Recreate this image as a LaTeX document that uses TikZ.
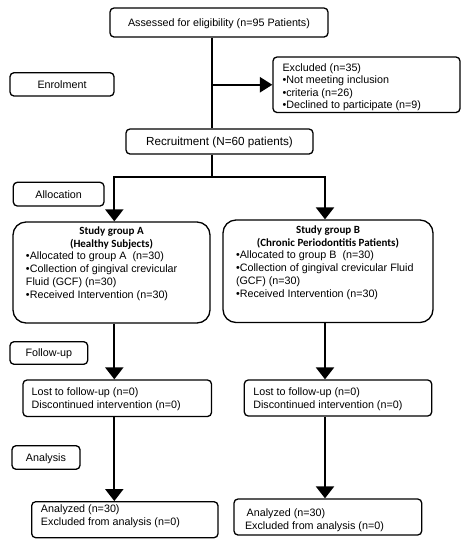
\documentclass[tikz,border=0pt]{standalone}
\usepackage{fontspec}
\setmainfont{Liberation Sans}
\newfontfamily\hdfont{Carlito}
\usetikzlibrary{arrows.meta}
% #1 width, #2 height, #3 top-to-first-baseline, #4 left indent, #5 line spacing, #6 content
\newcommand{\bxl}[6]{\begin{minipage}[c][#2pt][t]{#1pt}\fontsize{10.75}{#5}\selectfont\raggedright\leftskip=#4pt\relax\vspace*{\dimexpr#3pt-\ht\strutbox\relax}\strut\ignorespaces#6\end{minipage}}
\newcommand{\hdg}{\hdfont\bfseries\fontsize{11}{12.7}\selectfont}
\begin{document}
\begin{tikzpicture}[x=1pt,y=-1pt,
  box/.style={draw, line width=1.3pt, rounded corners=4pt, inner sep=0pt},
  bigbox/.style={box, rounded corners=13pt},
  one/.style={box, text height=7.7pt, text depth=0pt, font=\fontsize{10.75}{12.8}\selectfont},
  conn/.style={line width=2.2pt},
  tipv/.style={-{Triangle[width=18pt,length=12pt]}},
  tipboth/.style={{Triangle[width=18pt,length=12pt]}-{Triangle[width=18pt,length=12pt]}},
]
\useasboundingbox (0,0) rectangle (467,550);
\fill[white] (0,0) rectangle (467,550);

% boxes
\node[one, minimum width=218pt, minimum height=29pt] (assess) at (219,22.5) {Assessed for eligibility (n=95 Patients)};
\node[one, minimum width=104pt, minimum height=23.3pt] (enrol) at (62,84.35) {Enrolment};
\node[box] (excl) at (366.5,84.75) {\bxl{187}{55.5}{14.5}{9.5}{12.4pt}{Excluded (n=35)\\•Not meeting inclusion\\•criteria (n=26)\\•Declined to participate (n=9)}};
\node[one, minimum width=187pt, minimum height=25pt, text height=8.4pt, font=\fontsize{11.7}{14}\selectfont] (recruit) at (219.5,141.5) {Recruitment (N=60 patients)};
\node[one, minimum width=90.7pt, minimum height=23.7pt] (alloc) at (58.65,194.15) {Allocation};

\node[bigbox] (ga) at (111.5,272.5) {\bxl{197}{101}{12.5}{13}{12.7pt}{{\centering\hdg Study group A\\(Healthy Subjects)\par}•Allocated to group A\ \ (n=30)\\•Collection of gingival crevicular\\Fluid (GCF) (n=30)\\•Received Intervention (n=30)}};
\node[bigbox] (gb) at (328,271.25) {\bxl{210}{102.5}{13.5}{13}{12.7pt}{{\centering\hdg Study group B\\(Chronic Periodontitis Patients)\par}•Allocated to group B\ \ (n=30)\\•Collection of gingival crevicular Fluid\\(GCF) (n=30)\\•Received Intervention (n=30)}};

\node[one, minimum width=77.7pt, minimum height=22.6pt] (follow) at (48.85,353) {Follow-up};
\node[box] (la) at (117.25,398.25) {\bxl{188.5}{36.5}{15}{8.7}{13pt}{Lost to follow-up (n=0)\\Discontinued intervention (n=0)}};
\node[box] (lb) at (338,398) {\bxl{187.4}{36}{15}{9}{13pt}{Lost to follow-up (n=0)\\Discontinued intervention (n=0)}};

\node[one, minimum width=68pt, minimum height=23.6pt] (anal) at (46,457.5) {Analysis};
\node[box] (aa) at (124.85,519.7) {\bxl{186.3}{36}{10.5}{9.3}{13.5pt}{Analyzed (n=30)\\Excluded from analysis (n=0)}};
\node[box] (ab) at (327.85,517) {\bxl{187.7}{36}{17.3}{11}{13.5pt}{\hspace*{1.7pt}Analyzed (n=30)\\Excluded from analysis (n=0)}};

% guide coordinates
\coordinate (spine) at (212,0);
\coordinate (split) at (0,177.3);
\coordinate (colA) at (114.3,0);
\coordinate (colB) at (325,0);

% connectors
\draw[conn] (assess.south -| spine) -- (recruit.north -| spine);
\draw[conn, -{Triangle[width=15pt,length=12.4pt]}] (spine |- excl.west) -- (excl.west);
\draw[conn] (recruit.south -| spine) -- (spine |- split);
\draw[conn, tipboth] (ga.north -| colA) -- (colA |- split) -- (colB |- split) -- (gb.north -| colB);
\draw[conn, tipv] (ga.south -| colA) -- (la.north -| colA);
\draw[conn, tipv] (gb.south -| colB) -- (lb.north -| colB);
\draw[conn, tipv] (la.south -| colA) -- (aa.north -| colA);
\draw[conn, tipv] (lb.south -| colB) -- (ab.north -| colB);
\end{tikzpicture}
\end{document}
